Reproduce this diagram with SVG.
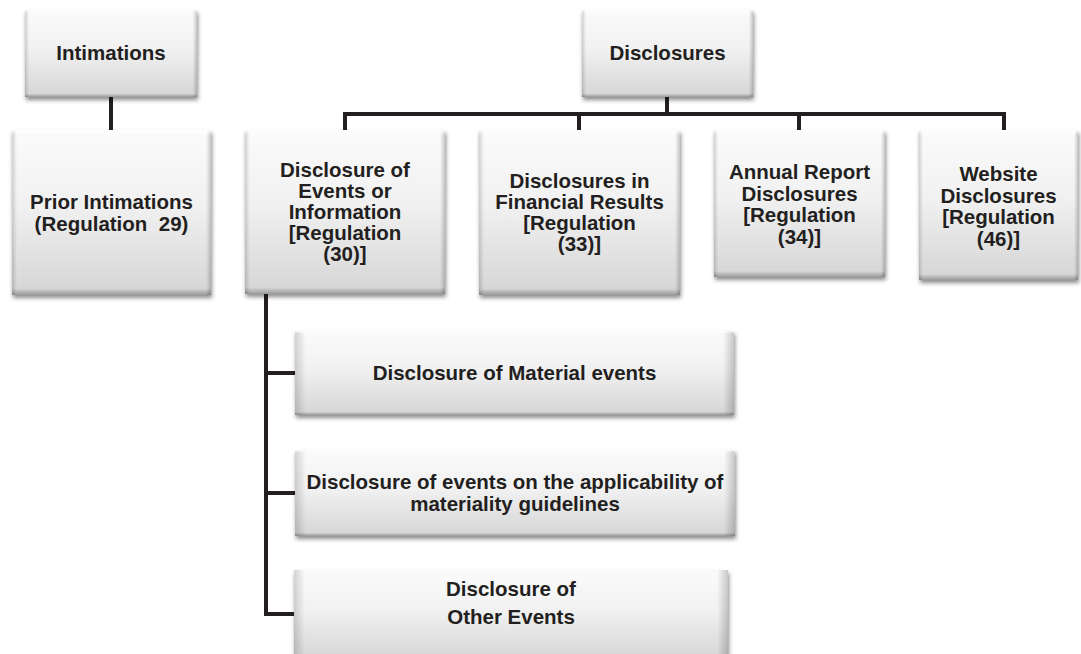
<svg xmlns="http://www.w3.org/2000/svg" width="1081" height="654" viewBox="0 0 1081 654">
  <defs>
    <linearGradient id="boxFill" x1="0" y1="0" x2="0" y2="1">
      <stop offset="0" stop-color="#fbfbfb"/>
      <stop offset="0.45" stop-color="#f1f1f1"/>
      <stop offset="1" stop-color="#d5d5d5"/>
    </linearGradient>
    <linearGradient id="sideShade" x1="0" y1="0" x2="1" y2="0">
      <stop offset="0" stop-color="#000" stop-opacity="0.16"/>
      <stop offset="0.025" stop-color="#000" stop-opacity="0"/>
      <stop offset="0.975" stop-color="#000" stop-opacity="0"/>
      <stop offset="1" stop-color="#000" stop-opacity="0.2"/>
    </linearGradient>
    <linearGradient id="vertShade" x1="0" y1="0" x2="0" y2="1">
      <stop offset="0" stop-color="#fff" stop-opacity="0.9"/>
      <stop offset="0.03" stop-color="#fff" stop-opacity="0"/>
      <stop offset="0.96" stop-color="#000" stop-opacity="0"/>
      <stop offset="1" stop-color="#000" stop-opacity="0.28"/>
    </linearGradient>
    <filter id="shadow" x="-10%" y="-10%" width="120%" height="130%">
      <feDropShadow dx="1" dy="3" stdDeviation="2.2" flood-color="#000" flood-opacity="0.45"/>
    </filter>
  </defs>
  <style>
    .box { fill: url(#boxFill); filter: url(#shadow); }
    .side { fill: url(#sideShade); }
    .vert { fill: url(#vertShade); }
    .lbl { font-family: "Liberation Sans", Arial, sans-serif; font-weight: bold; font-size: 20.5px; fill: #231f20; text-anchor: middle; }
    .wire { fill: none; stroke: #231f20; stroke-width: 4; stroke-linecap: square; }
  </style>

  <rect width="1081" height="654" fill="#ffffff"/>

  <!-- connectors -->
  <g id="connectors">
    <path class="wire" d="M111 97 V130"/>
    <path class="wire" d="M667 97 V114 M345 114 H1004 M345 114 V130 M579 114 V130 M799 114 V130 M1004 114 V130"/>
    <path class="wire" d="M266 294 V614 M266 373 H294 M266 493 H294 M266 614 H294"/>
  </g>

  <g id="intimations">
    <rect class="box" x="25" y="10" width="172" height="87"/>
    <rect class="side" x="25" y="10" width="172" height="87"/>
    <rect class="vert" x="25" y="10" width="172" height="87"/>
    <text class="lbl" x="111" y="60">Intimations</text>
  </g>

  <g id="prior-intimations">
    <rect class="box" x="12" y="130" width="199" height="165"/>
    <rect class="side" x="12" y="130" width="199" height="165"/>
    <rect class="vert" x="12" y="130" width="199" height="165"/>
    <text class="lbl" x="111.5" y="209">Prior Intimations</text>
    <text class="lbl" x="111.5" y="231" xml:space="preserve">(Regulation  29)</text>
  </g>

  <g id="disclosures">
    <rect class="box" x="582" y="10" width="171" height="87"/>
    <rect class="side" x="582" y="10" width="171" height="87"/>
    <rect class="vert" x="582" y="10" width="171" height="87"/>
    <text class="lbl" x="667.5" y="60">Disclosures</text>
  </g>

  <g id="events-information">
    <rect class="box" x="245" y="130" width="200" height="164"/>
    <rect class="side" x="245" y="130" width="200" height="164"/>
    <rect class="vert" x="245" y="130" width="200" height="164"/>
    <text class="lbl" x="345" y="177">Disclosure of</text>
    <text class="lbl" x="345" y="198">Events or</text>
    <text class="lbl" x="345" y="219">Information</text>
    <text class="lbl" x="345" y="240">[Regulation</text>
    <text class="lbl" x="345" y="261">(30)]</text>
  </g>

  <g id="financial-results">
    <rect class="box" x="479" y="130" width="201" height="165"/>
    <rect class="side" x="479" y="130" width="201" height="165"/>
    <rect class="vert" x="479" y="130" width="201" height="165"/>
    <text class="lbl" x="579.5" y="188">Disclosures in</text>
    <text class="lbl" x="579.5" y="209">Financial Results</text>
    <text class="lbl" x="579.5" y="230">[Regulation</text>
    <text class="lbl" x="579.5" y="251">(33)]</text>
  </g>

  <g id="annual-report">
    <rect class="box" x="714" y="130" width="171" height="147"/>
    <rect class="side" x="714" y="130" width="171" height="147"/>
    <rect class="vert" x="714" y="130" width="171" height="147"/>
    <text class="lbl" x="799.5" y="179">Annual Report</text>
    <text class="lbl" x="799.5" y="200.5">Disclosures</text>
    <text class="lbl" x="799.5" y="222">[Regulation</text>
    <text class="lbl" x="799.5" y="243.5">(34)]</text>
  </g>

  <g id="website">
    <rect class="box" x="919" y="130" width="159" height="150"/>
    <rect class="side" x="919" y="130" width="159" height="150"/>
    <rect class="vert" x="919" y="130" width="159" height="150"/>
    <text class="lbl" x="998.5" y="181">Website</text>
    <text class="lbl" x="998.5" y="202.5">Disclosures</text>
    <text class="lbl" x="998.5" y="224">[Regulation</text>
    <text class="lbl" x="998.5" y="245.5">(46)]</text>
  </g>

  <g id="material-events">
    <rect class="box" x="295" y="331" width="439" height="84"/>
    <rect class="side" x="295" y="331" width="439" height="84"/>
    <rect class="vert" x="295" y="331" width="439" height="84"/>
    <text class="lbl" x="514.5" y="380">Disclosure of Material events</text>
  </g>

  <g id="materiality-guidelines">
    <rect class="box" x="295" y="450" width="440" height="86"/>
    <rect class="side" x="295" y="450" width="440" height="86"/>
    <rect class="vert" x="295" y="450" width="440" height="86"/>
    <text class="lbl" x="515" y="489">Disclosure of events on the applicability of</text>
    <text class="lbl" x="515" y="510.5">materiality guidelines</text>
  </g>

  <g id="other-events">
    <rect class="box" x="294" y="570" width="434" height="90"/>
    <rect class="side" x="294" y="570" width="434" height="90"/>
    <text class="lbl" x="511" y="596">Disclosure of</text>
    <text class="lbl" x="511" y="624">Other Events</text>
  </g>
</svg>
